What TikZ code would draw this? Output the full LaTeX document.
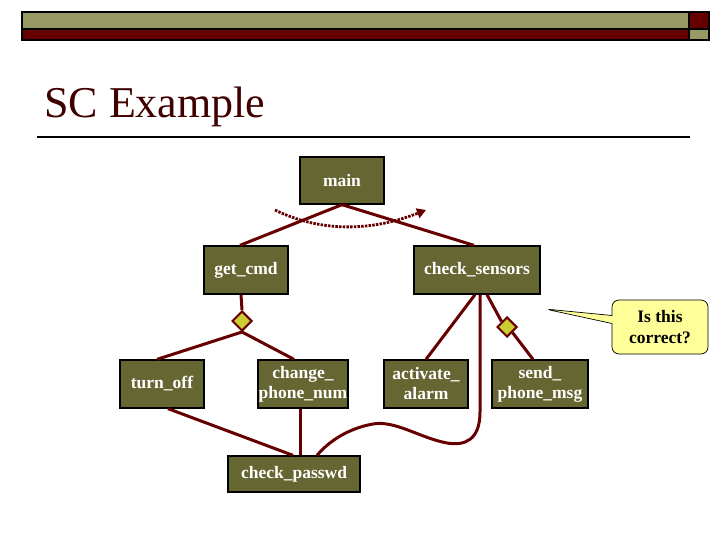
\documentclass[tikz,border=0pt]{standalone}
\usepackage{fontspec}
\setmainfont{Liberation Serif}
\usetikzlibrary{shapes.geometric,shapes.callouts,arrows.meta}
\definecolor{olivebox}{HTML}{666633}
\definecolor{edgered}{HTML}{660000}
\definecolor{headolive}{HTML}{999966}
\definecolor{titlered}{HTML}{3F0000}
\definecolor{diayellow}{HTML}{CCCC33}
\definecolor{calloutyellow}{HTML}{FFFF99}
\tikzset{
  modbox/.style={draw=black, line width=1.3pt, fill=olivebox, text=white, inner sep=0pt,
    font=\fontsize{17.5}{20}\selectfont\bfseries, align=center},
  conn/.style={draw=edgered, line width=3pt},
  choice/.style={diamond, draw=edgered, line width=2pt, fill=diayellow, inner sep=0pt,
    minimum width=20pt, minimum height=20pt},
  headbar/.style={draw=black, line width=1.4pt}
}
\begin{document}
\begin{tikzpicture}[x=1pt,y=-1pt]
\useasboundingbox (0,0) rectangle (720,540);
% header bars
\fill[headolive] (22,12) rectangle (689,29);
\fill[edgered] (689,12) rectangle (709,29);
\fill[edgered] (22,29) rectangle (689,40);
\fill[headolive] (689,29) rectangle (709,40);
\draw[headbar] (22,12) rectangle (709,40);
\draw[headbar] (22,29) -- (709,29);
\draw[headbar] (689,12) -- (689,40);
% title
\node[anchor=base west, inner sep=0pt, text=titlered, font=\fontsize{44}{44}\selectfont] (title) at (44,118) {SC Example};
\draw[line width=2pt] (37,137) -- (690,137);
% nodes
\node[modbox, minimum width=84pt, minimum height=47pt] (main) at (342,180.5) {main};
\node[modbox, minimum width=84pt, minimum height=48pt] (getcmd) at (246,270) {get\_cmd};
\node[modbox, minimum width=126pt, minimum height=48pt] (checks) at (477,270) {check\_sensors};
\node[modbox, minimum width=84pt, minimum height=48pt] (turnoff) at (162,384) {turn\_off};
\node[modbox, minimum width=90pt, minimum height=48pt] (change) at (303,384) {change\_\\phone\_num};
\node[modbox, minimum width=84pt, minimum height=48pt] (activate) at (426,384) {activate\_\\alarm};
\node[modbox, minimum width=96pt, minimum height=48pt] (send) at (540,384) {send\_\\phone\_msg};
\node[modbox, minimum width=132pt, minimum height=36pt] (passwd) at (294,474) {check\_passwd};
% choice diamonds
\node[choice] (d1) at (242,321) {};
\node[choice] (d2) at (507,327) {};
% connectors
\draw[conn] (main.south) -- ([xshift=-6pt]getcmd.north);
\draw[conn] (main.south) -- ([xshift=-3pt]checks.north);
\draw[conn] ([xshift=-5pt]getcmd.south) -- (d1.north);
\draw[conn] (d1.south) -- ([xshift=-5pt]turnoff.north);
\draw[conn] (d1.south) -- ([xshift=-9pt]change.north);
\draw[conn] ([xshift=-2pt]checks.south) -- (activate.north);
\draw[conn] ([xshift=10pt]checks.south) -- (d2.north west);
\draw[conn] (d2.south east) -- ([xshift=-7pt]send.north);
\draw[conn] ([xshift=6pt]turnoff.south) -- ([xshift=-1pt]passwd.north);
\draw[conn] ([xshift=-3pt]change.south) -- ([xshift=6pt]passwd.north);
\draw[conn] ([xshift=3pt]checks.south) -- (480,412)
  .. controls (480,440) and (465,446) .. (447,443)
  .. controls (420,438) and (395,420) .. (373,424)
  .. controls (350,428) and (330,440) .. ([xshift=23pt]passwd.north);
% dotted sequence arrow
\coordinate (s1) at (275,210);
\coordinate (s2) at (426,210);
\draw[edgered, line width=2.8pt, dash pattern=on 2.5pt off 1.2pt, -{Triangle[length=9pt,width=10pt]}]
  (s1) .. controls (320,232) and (370,232) .. (s2);
% callout
\coordinate (cp) at (545,309);
\node[rectangle callout, rounded corners=7pt, draw=black, line width=0.7pt, fill=calloutyellow,
  minimum width=96pt, minimum height=54pt, align=center,
  font=\fontsize{17.5}{21}\selectfont\bfseries,
  callout absolute pointer={(cp)}, callout pointer width=8pt] (q) at (660,327) {Is this\\correct?};
\end{tikzpicture}
\end{document}
